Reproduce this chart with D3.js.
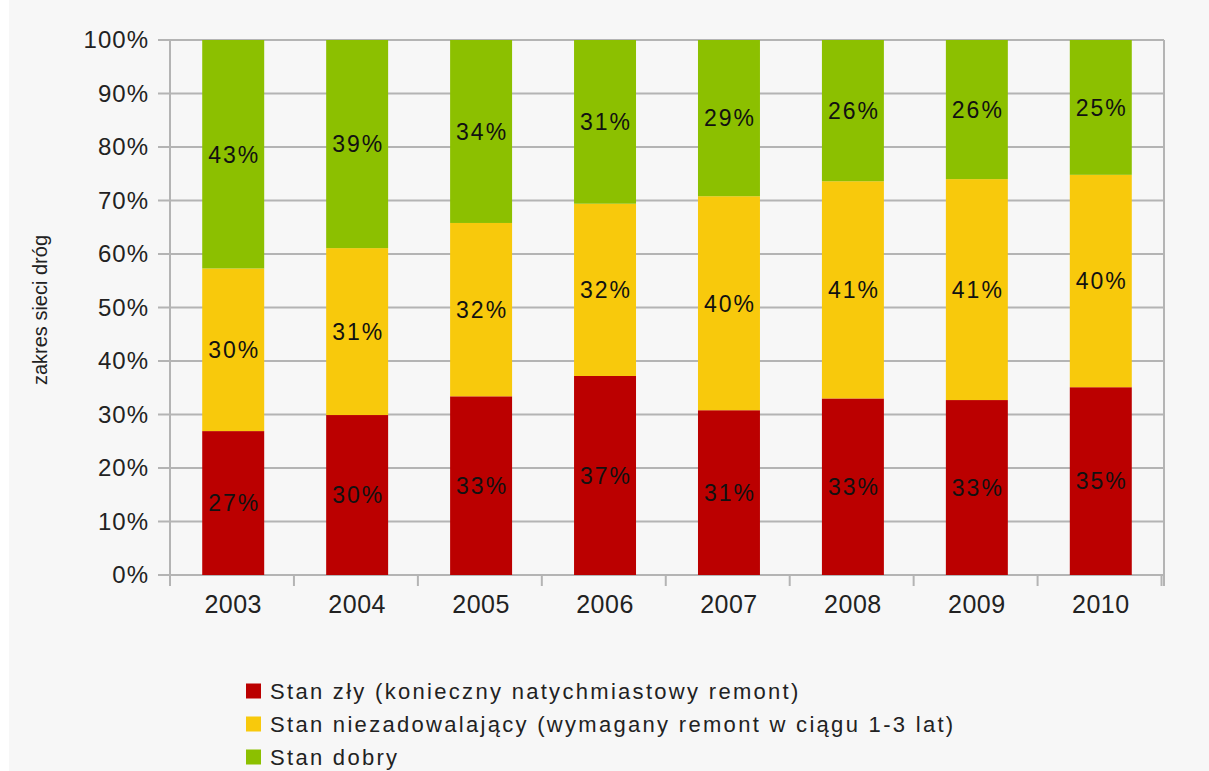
<!DOCTYPE html>
<html>
<head>
<meta charset="utf-8">
<script src="https://cdn.jsdelivr.net/npm/d3@7"></script>
<style>
  body { margin: 0; background: #ffffff; }
  svg { display: block; font-family: "Liberation Sans", Arial, sans-serif; }
</style>
</head>
<body>
<div id="chart"></div>
<script>
// values (share of the road network, 0..1)
var years = ["2003", "2004", "2005", "2006", "2007", "2008", "2009", "2010"];
var stanZly = [0.269, 0.299, 0.334, 0.372, 0.308, 0.330, 0.327, 0.351];
var stanNiezad = [0.304, 0.312, 0.324, 0.322, 0.400, 0.406, 0.413, 0.397];
var stanDobry = [0.427, 0.389, 0.342, 0.306, 0.292, 0.264, 0.260, 0.252];
var seriesNames = [
    "Stan zły (konieczny natychmiastowy remont)",
    "Stan niezadowalający (wymagany remont w ciągu 1-3 lat)",
    "Stan dobry"
];
var seriesColors = ["#bb0000", "#f8c90c", "#8cc000"];
var yTicks = [0, 0.1, 0.2, 0.3, 0.4, 0.5, 0.6, 0.7, 0.8, 0.9, 1];

var W = 1209, H = 771;
var plot = {left: 170, right: 1164, top: 40, bottom: 575};

var rows = years.map(function(y, i) {
    return {year: y, zly: stanZly[i], niezad: stanNiezad[i], dobry: stanDobry[i]};
});
var keys = ["zly", "niezad", "dobry"];

var svg = d3.select("#chart").append("svg")
    .attr("width", W)
    .attr("height", H);

svg.append("rect")
    .attr("x", 9).attr("y", 0)
    .attr("width", W - 9).attr("height", H)
    .attr("fill", "#f7f7f7");

var x = d3.scaleBand()
    .domain(years)
    .range([plot.left, plot.right])
    .paddingInner(0.5)
    .paddingOuter(0.26);

var y = d3.scaleLinear()
    .domain([0, 1])
    .range([plot.bottom, plot.top]);

// gridlines
svg.append("g")
    .attr("class", "grid")
    .selectAll("line")
    .data(yTicks)
    .enter().append("line")
    .attr("x1", plot.left - 12)
    .attr("x2", plot.right)
    .attr("y1", function(d) { return y(d); })
    .attr("y2", function(d) { return y(d); })
    .attr("stroke", "#b4b4b4")
    .attr("stroke-width", 2);

// right border of the plot
svg.append("line")
    .attr("x1", plot.right).attr("x2", plot.right)
    .attr("y1", plot.top).attr("y2", plot.bottom + 11)
    .attr("stroke", "#b4b4b4")
    .attr("stroke-width", 2);

// left axis line
svg.append("line")
    .attr("x1", plot.left).attr("x2", plot.left)
    .attr("y1", plot.top).attr("y2", plot.bottom + 11)
    .attr("stroke", "#b4b4b4")
    .attr("stroke-width", 2);

// y axis labels
var yAxis = d3.axisLeft(y)
    .tickValues(yTicks)
    .tickFormat(d3.format(".0%"))
    .tickSize(0)
    .tickPadding(21);

var yg = svg.append("g")
    .attr("transform", "translate(" + plot.left + ",0)")
    .call(yAxis);
yg.select(".domain").remove();
yg.selectAll("text")
    .attr("font-size", 24)
    .attr("letter-spacing", 1)
    .attr("fill", "#222")
    .attr("font-family", "Liberation Sans, Arial, sans-serif");

// x axis: ticks between categories
var tickX = d3.range(years.length + 1).map(function(i) {
    return plot.left + i * x.step();
});
svg.append("g")
    .selectAll("line")
    .data(tickX)
    .enter().append("line")
    .attr("x1", function(d) { return d; })
    .attr("x2", function(d) { return d; })
    .attr("y1", plot.bottom)
    .attr("y2", plot.bottom + 11)
    .attr("stroke", "#b4b4b4")
    .attr("stroke-width", 2);

var xAxis = d3.axisBottom(x).tickSize(0).tickPadding(20);
var xg = svg.append("g")
    .attr("transform", "translate(0," + plot.bottom + ")")
    .call(xAxis);
xg.select(".domain").remove();
xg.selectAll("text")
    .attr("font-size", 25)
    .attr("letter-spacing", 0.5)
    .attr("fill", "#222")
    .attr("font-family", "Liberation Sans, Arial, sans-serif");

// stacked bars
var stacked = d3.stack().keys(keys)(rows);

var layer = svg.append("g")
    .selectAll("g")
    .data(stacked)
    .enter().append("g")
    .attr("fill", function(d, i) { return seriesColors[i]; });

layer.selectAll("rect")
    .data(function(d) { return d; })
    .enter().append("rect")
    .attr("x", function(d) { return x(d.data.year); })
    .attr("width", x.bandwidth())
    .attr("y", function(d) { return y(d[1]); })
    .attr("height", function(d) { return y(d[0]) - y(d[1]); });

layer.selectAll("text")
    .data(function(d) { return d; })
    .enter().append("text")
    .attr("x", function(d) { return x(d.data.year) + x.bandwidth() / 2 + 1; })
    .attr("y", function(d) { return (y(d[0]) + y(d[1])) / 2; })
    .attr("dy", "0.36em")
    .attr("text-anchor", "middle")
    .attr("font-size", 23)
    .attr("letter-spacing", 2)
    .attr("fill", "#111")
    .text(function(d) { return d3.format(".0%")(d[1] - d[0]); });

// y axis title
svg.append("text")
    .attr("transform", "translate(47,310) rotate(-90)")
    .attr("text-anchor", "middle")
    .attr("font-size", 20)
    .attr("fill", "#222")
    .text("zakres sieci dróg");

// legend
var legend = svg.append("g")
    .selectAll("g")
    .data(seriesNames)
    .enter().append("g")
    .attr("transform", function(d, i) { return "translate(246," + (691 + i * 33) + ")"; });

legend.append("rect")
    .attr("x", 0).attr("y", -7.5)
    .attr("width", 15).attr("height", 15)
    .attr("fill", function(d, i) { return seriesColors[i]; });

legend.append("text")
    .attr("x", 24)
    .attr("dy", "0.36em")
    .attr("font-size", 22)
    .attr("letter-spacing", 2.3)
    .attr("fill", "#222")
    .text(function(d) { return d; });
</script>
</body>
</html>
